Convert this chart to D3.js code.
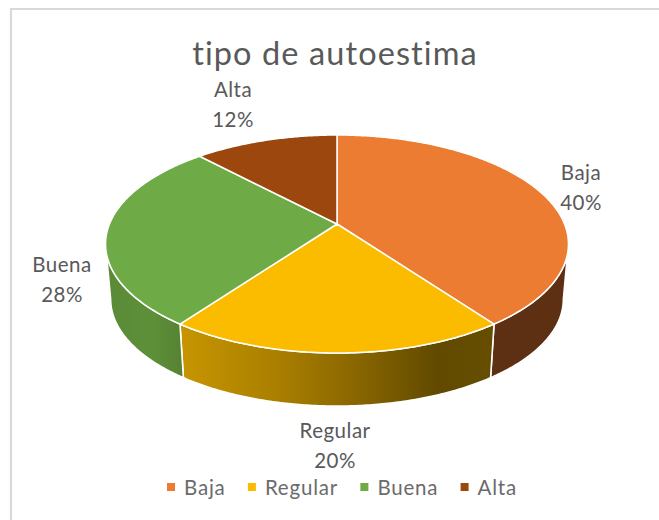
<!DOCTYPE html>
<html><head><meta charset="utf-8">
<script src="https://cdn.jsdelivr.net/npm/d3@7/dist/d3.min.js"></script>
<style>html,body{margin:0;padding:0;background:#fff}svg{display:block}</style>
</head><body><svg id="c" width="659" height="520"></svg>
<script>
const categories = ["Baja","Regular","Buena","Alta"];
const values = [40,20,28,12];
const percentLabels = ["40%","20%","28%","12%"];
const colors = ["#EB7C31","#FBBC00","#6EAA46","#9C470D"];
const chartTitle = "tipo de autoestima";

const W=659,H=520;
const svg=d3.select("#c");
const FONT="Lato, 'Noto Sans', sans-serif";
svg.append("path").attr("d",`M${W},9H11V${H}`).attr("fill","none").attr("stroke","#d9d9d9").attr("stroke-width",2.2);

// perspective disc projection
const k=0.1835;
const top_={cx:337,cy:224,R:227.5,B:105.3};
const low={cx:337,cy:279.7,R:222.5,B:103.2};
function proj(p,t){const X=Math.sin(t),Y=-Math.cos(t),s=1/(1-k*Y);return [p.cx+p.R*X*s,p.cy+p.B*Y*s];}
const pie=d3.pie().sort(null).value(d=>d);
const arcs=pie(values);
const line=d3.line();
const rim=(p,a,b)=>{const n=Math.max(2,Math.ceil((b-a)/0.01));return d3.range(n+1).map(i=>proj(p,a+(b-a)*i/n));};

const defs=svg.append("defs");
const grads=[
 {id:"gBaja",stops:[["0%","#5e3013"],["100%","#5e3013"]]},
 {id:"gReg",stops:[["0%","#c79500"],["30%","#ab8000"],["55%","#8a6700"],["82%","#614a00"],["100%","#664d00"]]},
 {id:"gBue",stops:[["0%","#5a8a37"],["60%","#5e8f39"],["100%","#558233"]]}
];
grads.forEach(g=>{const lg=defs.append("linearGradient").attr("id",g.id).attr("x1","0").attr("x2","1").attr("y1","0").attr("y2","0");
 g.stops.forEach(s=>lg.append("stop").attr("offset",s[0]).attr("stop-color",s[1]));});

// visible side walls: silhouette angle where cos t = -k
const tR=Math.acos(-k), tL=2*Math.PI-tR;
const wall=(a,b,fill)=>{
  const pts=rim(top_,a,b).concat(rim(low,a,b).reverse());
  svg.append("path").attr("d",line(pts)+"Z").attr("fill",fill).attr("stroke","#fff").attr("stroke-width",1.6).attr("stroke-linejoin","round");
};
wall(tR,arcs[0].endAngle,"url(#gBaja)");
wall(arcs[1].startAngle,arcs[1].endAngle,"url(#gReg)");
wall(arcs[2].startAngle,tL,"url(#gBue)");

// top face
const apex=[top_.cx,top_.cy];
svg.append("g").selectAll("path").data(arcs).join("path")
  .attr("d",d=>line([apex].concat(rim(top_,d.startAngle,d.endAngle)))+"Z")
  .attr("fill",(d,i)=>colors[i]).attr("stroke","#fff").attr("stroke-width",1.5).attr("stroke-linejoin","round");

// title
svg.append("text").attr("x",335).attr("y",65).attr("text-anchor","middle")
  .attr("font-family",FONT).attr("font-size",32.5).attr("fill","#595959").attr("letter-spacing",1.1).text(chartTitle);

// data labels
const labelAt=[[581,180],[335,438],[62,272],[233,97]];
categories.forEach((c,i)=>{
  const g=svg.append("text").attr("text-anchor","middle").attr("font-family",FONT).attr("font-size",20.5).attr("letter-spacing",0.5).attr("fill","#595959");
  g.append("tspan").attr("x",labelAt[i][0]).attr("y",labelAt[i][1]).text(c);
  g.append("tspan").attr("x",labelAt[i][0]).attr("y",labelAt[i][1]+30).text(percentLabels[i]);
});

// legend
let lx=167;
categories.forEach((c,i)=>{
  svg.append("rect").attr("x",lx).attr("y",483).attr("width",8).attr("height",8).attr("fill",colors[i]);
  const t=svg.append("text").attr("x",lx+17).attr("y",495).attr("font-family",FONT).attr("font-size",20.5).attr("letter-spacing",0.8).attr("fill","#6b6b6b").text(c);
  lx+=17+t.node().getComputedTextLength()+22.3;
});
</script></body></html>
